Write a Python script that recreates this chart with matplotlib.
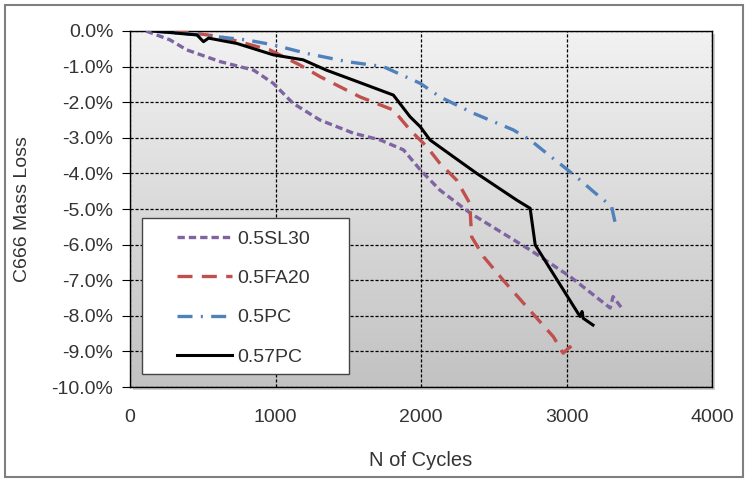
import matplotlib.pyplot as plt
import numpy as np
from matplotlib.patches import Rectangle
from matplotlib.ticker import PercentFormatter
from matplotlib.colors import LinearSegmentedColormap

plt.rcParams['font.family'] = ['Liberation Sans', 'DejaVu Sans']
plt.rcParams['axes.unicode_minus'] = False

# 0.5SL30
sl30_x = [110, 275, 390, 620, 850, 985, 1120, 1305, 1535, 1720, 1880, 1995, 2130, 2340, 2750, 3025, 3300, 3320, 3390]
sl30_y = [0.0, -0.25, -0.53, -0.86, -1.10, -1.47, -2.03, -2.50, -2.87, -3.06, -3.34, -3.90, -4.47, -5.12, -6.15, -6.90, -7.78, -7.46, -7.84]

# 0.5FA20
fa20_x = [300, 460, 620, 960, 1170, 1305, 1580, 1810, 1925, 2040, 2130, 2245, 2335, 2348, 2430, 2565, 2725, 2910, 2977, 3024, 3058]
fa20_y = [0.0, -0.07, -0.16, -0.53, -0.96, -1.28, -1.85, -2.22, -2.78, -3.25, -3.72, -4.19, -4.84, -5.78, -6.34, -7.00, -7.74, -8.59, -9.05, -8.87, -9.15]

# 0.5PC
pc5_x = [150, 480, 800, 985, 1215, 1490, 1740, 1995, 2130, 2360, 2635, 2750, 2865, 2980, 3095, 3185, 3310, 3333]
pc5_y = [0.0, -0.11, -0.25, -0.39, -0.63, -0.86, -1.00, -1.47, -1.85, -2.31, -2.78, -3.06, -3.44, -3.81, -4.19, -4.51, -4.93, -5.36]

# 0.57PC
pc57_x = [160, 345, 460, 505, 540, 735, 985, 1190, 1350, 1535, 1810, 1925, 1995, 2062, 2222, 2383, 2658, 2750, 2785, 3093, 3107, 3115, 3182]
pc57_y = [0.0, -0.07, -0.11, -0.30, -0.20, -0.35, -0.67, -0.81, -1.10, -1.38, -1.80, -2.41, -2.69, -3.06, -3.53, -4.00, -4.75, -4.98, -6.01, -8.02, -7.88, -8.07, -8.26]

fig = plt.figure(figsize=(7.46, 4.79), dpi=100)

# outer chart frame
fig.patches.append(Rectangle((5 / 746, 2 / 479), 738 / 746, 472 / 479, transform=fig.transFigure,
                             fill=False, edgecolor='#7f7f7f', linewidth=1.5, zorder=-2))
# small shadow of plot area
fig.patches.append(Rectangle((133 / 746, 89 / 479), 582 / 746, 356 / 479, transform=fig.transFigure,
                             facecolor='#cfcfcf', edgecolor='none', zorder=-1))

ax = fig.add_axes([130 / 746, 92 / 479, 582 / 746, 356 / 479])
ax.set_zorder(1)

# gradient background
grad = np.linspace(0, 1, 256).reshape(-1, 1)
ax.imshow(grad, cmap=LinearSegmentedColormap.from_list('g', ['#f2f2f2', '#c2c2c2']),
          extent=[0, 4000, -10, 0], aspect='auto', origin='upper', zorder=0)

ax.plot(sl30_x, sl30_y, color='#8064A2', linewidth=2.4, dashes=(2.2, 1.2), label='0.5SL30', zorder=3)
ax.plot(fa20_x, fa20_y, color='#C0504D', linewidth=2.4, dashes=(4.5, 2.8), label='0.5FA20', zorder=3)
ax.plot(pc5_x, pc5_y, color='#4F81BD', linewidth=2.4, dashes=(4.5, 2.5, 0.6, 2.5), label='0.5PC', zorder=3)
ax.plot(pc57_x, pc57_y, color='black', linewidth=2.2, label='0.57PC', zorder=4)

ax.set_xlim(0, 4000)
ax.set_ylim(-10, 0)
ax.set_xticks([0, 1000, 2000, 3000, 4000])
ax.set_yticks(np.arange(-10, 0.5, 1))
ax.yaxis.set_major_formatter(PercentFormatter(decimals=1))
ax.grid(True, color='black', linestyle=(0, (2.5, 1.5)), linewidth=0.9, zorder=1)
ax.set_axisbelow(False)
for s in ax.spines.values():
    s.set_color('black')
    s.set_linewidth(1.0)
ax.tick_params(axis='y', direction='out', length=6, labelsize=14, pad=6, colors='black')
ax.tick_params(axis='x', length=0, labelsize=14, pad=16)
for lab in ax.get_xticklabels() + ax.get_yticklabels():
    lab.set_color('#333333')

ax.set_xlabel('N of Cycles', fontsize=14.5, color='#333333', labelpad=18)
ax.set_ylabel('C666 Mass Loss', fontsize=14, color='#333333', labelpad=15)

# legend box drawn by hand, entries placed inside it
box = Rectangle((12 / 582, 13 / 356), 207 / 582, 156 / 356, transform=ax.transAxes,
                facecolor='white', edgecolor='#444444', linewidth=1.0, zorder=5)
ax.add_patch(box)
leg = ax.legend(loc='upper left', bbox_to_anchor=(47 / 582, 157 / 356), frameon=False,
                fontsize=14, handlelength=2.83, labelspacing=1.12, borderpad=0,
                borderaxespad=0, handletextpad=0.26)
for t in leg.get_texts():
    t.set_color('#333333')
leg.set_zorder(6)

fig.savefig('out.png', dpi=100)
